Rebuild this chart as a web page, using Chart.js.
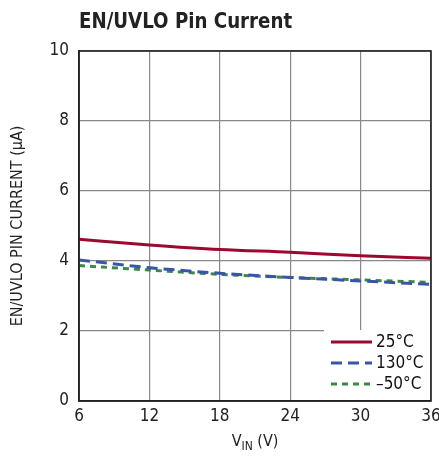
<!DOCTYPE html>
<html><head><meta charset="utf-8">
<script src="https://cdn.jsdelivr.net/npm/chart.js@4"></script>
<style>html,body{margin:0;padding:0;background:#fff;}#wrap{width:439px;height:464px;position:relative;}</style>
</head><body><div id="wrap"><canvas id="c"></canvas></div>
<script>
const vin = [6, 12, 18, 24, 30, 36];
const cur25 = [4.62, 4.46, 4.33, 4.25, 4.15, 4.08];
const cur130 = [4.03, 3.81, 3.65, 3.53, 3.43, 3.33];
const curM50 = [3.87, 3.74, 3.62, 3.53, 3.46, 3.39];
const seriesLabels = ['25°C', '130°C', '–50°C'];
const xTicks = [6, 12, 18, 24, 30, 36];
const yTicks = [0, 2, 4, 6, 8, 10];
const FONT = '"Liberation Sans Narrow", "DejaVu Sans Condensed", Arial, sans-serif';

const toPts = (ys) => vin.map((x, i) => ({x, y: ys[i]}));

const overlay = {
  id: 'overlay',
  afterDatasetsDraw(chart) {
    const ctx = chart.ctx, a = chart.chartArea;
    ctx.save();
    const bx = a.right - 107, by = a.bottom - 71;
    ctx.fillStyle = '#fff';
    ctx.fillRect(bx, by, 106, 70);
    chart.data.datasets.forEach((ds, i) => {
      const y = by + 12 + i * 21;
      ctx.strokeStyle = ds.borderColor;
      ctx.lineWidth = 3;
      ctx.setLineDash(ds.borderDash || []);
      ctx.beginPath(); ctx.moveTo(bx + 7, y); ctx.lineTo(bx + 48, y); ctx.stroke();
      ctx.setLineDash([]);
      ctx.fillStyle = '#111';
      ctx.font = '17px ' + FONT;
      ctx.textBaseline = 'middle'; ctx.textAlign = 'left';
      ctx.fillText(ds.label, bx + 52, y + 1);
    });
    ctx.strokeStyle = '#222'; ctx.lineWidth = 1.6;
    ctx.strokeRect(a.left, a.top, a.right - a.left, a.bottom - a.top);
    ctx.restore();
  },
  afterDraw(chart) {
    const ctx = chart.ctx, a = chart.chartArea;
    ctx.save();
    ctx.fillStyle = '#222';
    ctx.font = 'bold 22px ' + FONT;
    ctx.textAlign = 'left'; ctx.textBaseline = 'alphabetic';
    ctx.translate(79, 28);
    ctx.scale(0.92, 1);
    ctx.fillText('EN/UVLO Pin Current', 0, 0);
    ctx.restore();
    ctx.save();
    ctx.fillStyle = '#222';
    ctx.font = '16px ' + FONT;
    ctx.translate(18, (a.top + a.bottom) / 2);
    ctx.rotate(-Math.PI / 2);
    ctx.textAlign = 'center'; ctx.textBaseline = 'middle';
    ctx.fillText('EN/UVLO PIN CURRENT (µA)', 0, 0);
    ctx.restore();
    ctx.save();
    ctx.fillStyle = '#222';
    ctx.textBaseline = 'alphabetic';
    const cx = (a.left + a.right) / 2, base = 446;
    ctx.font = '16px ' + FONT;
    const w1 = ctx.measureText('V').width;
    ctx.font = '12px ' + FONT;
    const w2 = ctx.measureText('IN').width;
    ctx.font = '16px ' + FONT;
    const w3 = ctx.measureText(' (V)').width;
    let x = cx - (w1 + w2 + w3) / 2;
    ctx.textAlign = 'left';
    ctx.fillText('V', x, base); x += w1;
    ctx.font = '12px ' + FONT;
    ctx.fillText('IN', x, base + 4); x += w2;
    ctx.font = '16px ' + FONT;
    ctx.fillText(' (V)', x, base);
    ctx.restore();
  }
};

new Chart(document.getElementById('c'), {
  type: 'line',
  data: {
    datasets: [
      {label: seriesLabels[0], data: toPts(cur25), borderColor: '#9b0a2e', borderWidth: 3, pointRadius: 0, cubicInterpolationMode: 'monotone'},
      {label: seriesLabels[1], data: toPts(cur130), borderColor: '#3a55a8', borderWidth: 3, borderDash: [11, 6], pointRadius: 0, cubicInterpolationMode: 'monotone'},
      {label: seriesLabels[2], data: toPts(curM50), borderColor: '#3a8a45', borderWidth: 3, borderDash: [6, 5], pointRadius: 0, cubicInterpolationMode: 'monotone'}
    ]
  },
  options: {
    responsive: true, maintainAspectRatio: false, animation: false,
    layout: {padding: {top: 51, right: 0, left: 0, bottom: 0}},
    plugins: {legend: {display: false}, tooltip: {enabled: false}, title: {display: false}},
    scales: {
      x: {
        type: 'linear', min: 6, max: 36,
        afterBuildTicks: (s) => { s.ticks = xTicks.map(v => ({value: v})); },
        afterFit: (s) => { s.height = 63; s.paddingRight = 8; s.paddingLeft = 0; },
        grid: {color: '#888', lineWidth: 1.2, drawTicks: false},
        border: {color: '#222', width: 1.6},
        ticks: {color: '#222', font: {family: FONT, size: 17}, padding: 5, maxRotation: 0}
      },
      y: {
        min: 0, max: 10,
        afterBuildTicks: (s) => { s.ticks = yTicks.map(v => ({value: v})); },
        afterFit: (s) => { s.width = 79; s.paddingTop = 0; s.paddingBottom = 0; },
        grid: {color: '#888', lineWidth: 1.2, drawTicks: false},
        border: {color: '#222', width: 1.6},
        ticks: {color: '#222', font: {family: FONT, size: 17}, padding: 10}
      }
    }
  },
  plugins: [overlay]
});
</script></body></html>
